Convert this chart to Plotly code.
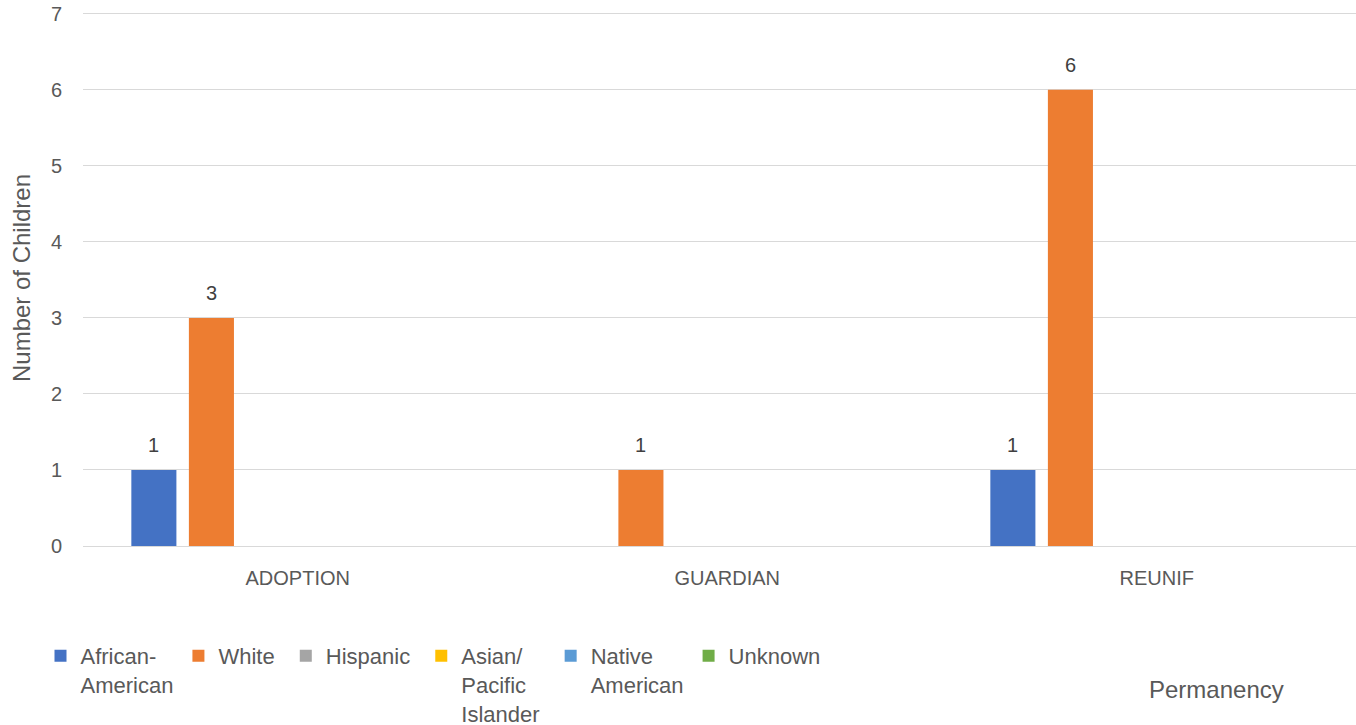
import plotly.graph_objects as go

categories = ["ADOPTION", "GUARDIAN", "REUNIF"]
series_names = ["African-<br>American", "White\u00a0", "Hispanic\u00a0", "Asian/<br>Pacific<br>Islander\u00a0", "Native<br>American", "Unknown"]
african_american = [1, None, 1]
white = [3, 1, 6]
hispanic = [None, None, None]
asian_pacific = [None, None, None]
native_american = [None, None, None]
unknown = [None, None, None]
y_ticks = [0, 1, 2, 3, 4, 5, 6, 7]

series_values = [african_american, white, hispanic, asian_pacific, native_american, unknown]
colors = ["#4472C4", "#ED7D31", "#A5A5A5", "#FFC000", "#5B9BD5", "#70AD47"]

FONT = "Liberation Sans"
TXT = "#595959"
FS = 20

W, H = 1356, 725
YMAX = 7.05
PX_PER_UNIT = 76
MB = 179
plot_h = YMAX * PX_PER_UNIT
MT = H - MB - plot_h
ML, MR = 83, 0
BARGAP = 0.196
nser = len(series_values)
slot = (1 - BARGAP) / nser

fig = go.Figure()
annotations = []
for k, (name, vals, col) in enumerate(zip(series_names, series_values, colors)):
    fig.add_trace(go.Bar(
        x=categories, y=vals, name=name,
        marker=dict(color=col, line=dict(width=0)),
    ))
    for i, v in enumerate(vals):
        if v is not None:
            annotations.append(dict(
                x=i + (k - (nser - 1) / 2) * slot, y=v, xref="x", yref="y",
                text=str(v), showarrow=False, yanchor="bottom", yshift=12,
                font=dict(family=FONT, size=FS, color="#404040")))

plot_w = W - ML - MR
plot_bottom = H - MB
annotations.append(dict(text="Permanency", xref="paper", yref="paper",
                        x=(1216 - ML) / plot_w, y=(plot_bottom - 689) / plot_h,
                        xanchor="center", yanchor="middle", showarrow=False,
                        font=dict(family=FONT, size=24, color=TXT)))

fig.update_layout(
    width=W, height=H,
    barmode="group", bargap=BARGAP, bargroupgap=0.217,
    paper_bgcolor="white", plot_bgcolor="white",
    margin=dict(l=ML, r=MR, t=MT, b=MB, autoexpand=False),
    font=dict(family=FONT, size=FS, color=TXT),
    showlegend=True,
    legend=dict(orientation="h", xref="container", x=40.5 / W, xanchor="left",
                yref="container", y=1 - 635 / H, yanchor="top",
                valign="top", font=dict(family=FONT, size=22, color=TXT),
                traceorder="normal", itemwidth=30, tracegroupgap=0),
    xaxis=dict(range=[-0.5, -0.5 + plot_w / 429.5], showgrid=False,
               showline=False, ticks="", tickfont=dict(size=FS, color=TXT), ticklabelstandoff=18),
    yaxis=dict(range=[0, YMAX], tickvals=y_ticks, showgrid=True, gridcolor="#D9D9D9", gridwidth=1.3,
               zeroline=True, zerolinecolor="#D9D9D9", zerolinewidth=1.3,
               ticks="", tickfont=dict(size=FS, color=TXT), ticklabelstandoff=20,
               ticklabeloverflow="allow",
               title=dict(text="Number of Children", font=dict(size=24, color=TXT), standoff=13)),
    annotations=annotations,
)

fig.write_html("out.html", config={"displayModeBar": False},
               post_script="document.body.style.margin='0';document.body.style.overflow='hidden';")
